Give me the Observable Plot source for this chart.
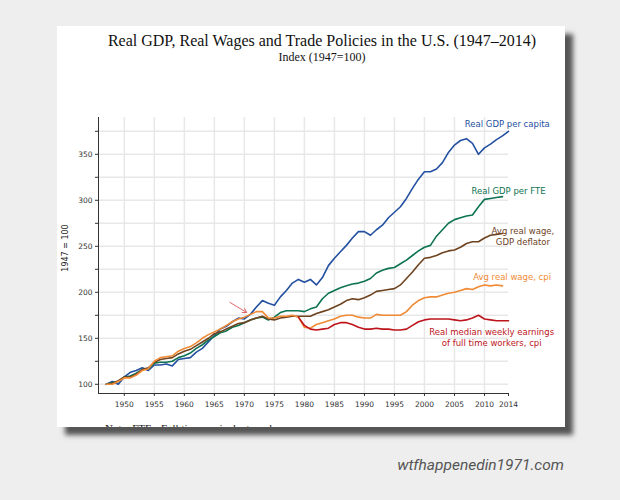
<!DOCTYPE html>
<html><head><meta charset="utf-8">
<script src="https://cdn.jsdelivr.net/npm/d3@7"></script>
<script src="https://cdn.jsdelivr.net/npm/@observablehq/plot@0.6"></script>
<style>
html,body{margin:0;padding:0;background:#eeeeee;width:620px;height:500px;overflow:hidden;position:relative;}
#card{position:absolute;left:57px;top:26px;width:508px;height:401px;background:#fff;box-shadow:8px 8px 5px #555;overflow:hidden;}
#note{position:absolute;left:48px;top:396px;font-family:"Liberation Serif",serif;font-size:11px;color:#222;white-space:nowrap;}
#title{position:absolute;left:22px;width:600px;top:32px;text-align:center;font-family:"Liberation Serif",serif;font-size:16px;color:#111;white-space:nowrap;}
#subtitle{position:absolute;left:22px;width:600px;top:50px;text-align:center;font-family:"Liberation Serif",serif;font-size:12px;color:#111;}
#chart{position:absolute;left:0;top:0;z-index:2;}
#ylab{position:absolute;left:65px;top:248px;transform:translate(-50%,-50%) rotate(-90deg);font-family:"DejaVu Sans",sans-serif;font-size:8px;color:#222;white-space:nowrap;z-index:3;}
#wm{position:absolute;right:56px;top:456px;font-family:Roboto,sans-serif;font-style:italic;font-size:15.5px;color:#555;white-space:nowrap;}
</style></head>
<body>
<div id="card"><div id="note">Note: FTE - Full time equivalent workers</div></div>
<div id="title">Real GDP, Real Wages and Trade Policies in the U.S. (1947–2014)</div>
<div id="subtitle">Index (1947=100)</div>
<div id="chart"></div>
<div id="ylab">1947 = 100</div>
<div id="wm">wtfhappenedin1971.com</div>
<script>
const years = [1947,1948,1949,1950,1951,1952,1953,1954,1955,1956,1957,1958,1959,
1960,1961,1962,1963,1964,1965,1966,1967,1968,1969,1970,1971,1972,1973,1974,1975,1976,1977,1978,1979,
1980,1981,1982,1983,1984,1985,1986,1987,1988,1989,1990,1991,1992,1993,1994,1995,1996,1997,1998,1999,
2000,2001,2002,2003,2004,2005,2006,2007,2008,2009,2010,2011,2012,2013,2014];

// Real GDP per capita
const gdpCapita = [100,103,100,108,113,115,118,115,121,121,122,120,127,
128,129,135,139,146,153,160,163,168,172,171,176,184,191,188,186,195,202,210,214,
211,214,208,216,229,237,244,251,259,266,266,262,268,273,281,287,293,302,313,323,
331,331,334,341,352,360,365,367,362,350,357,361,366,370,375];

// Real GDP per FTE
const gdpFTE = [100,102,103,108,109,112,116,117,123,124,124,125,129,
131,134,139,143,148,152,156,158,162,164,167,170,172,173,170,173,178,180,180,180,
179,182,184,193,199,202,205,207,209,210,212,215,221,224,226,227,231,235,240,245,
249,251,261,268,275,279,281,283,284,293,301,302,303,304,null];

// Avg real wage, GDP deflator
const wageDeflator = [100,101,104,108,108,111,116,118,124,127,128,129,133,
136,138,142,146,150,155,157,160,163,166,167,170,172,174,171,170,172,173,174,174,
174,174,177,179,181,184,187,191,193,192,194,197,201,202,203,204,208,215,222,230,
237,238,240,243,245,246,249,253,255,255,259,262,263,264,null];

// Avg real wage, cpi
const wageCpi = [100,100,103,107,107,110,115,117,125,129,130,131,136,
139,141,145,150,154,157,160,164,168,171,173,176,179,179,172,172,174,174,175,173,
162,161,165,167,169,171,174,175,175,173,172,172,176,175,175,175,175,179,186,191,
194,195,195,197,199,200,202,204,203,206,208,207,208,207,null];

// Real median weekly earnings of full time workers, cpi
const medianWeekly = [null,null,null,null,null,null,null,null,null,null,null,null,null,
null,null,null,null,null,null,null,null,null,null,null,null,null,null,null,null,null,null,null,173,
164,160,159,160,161,165,167,167,165,162,160,160,161,160,160,159,159,160,164,168,
170,171,171,171,171,170,169,170,172,175,171,170,169,169,169];

const seriesNames = ["Real GDP per capita","Real GDP per FTE","Avg real wage,\nGDP deflator","Avg real wage, cpi","Real median weekly earnings\nof full time workers, cpi"];
const seriesColors = ["#2350a0","#0d7352","#6e431f","#f08a35","#bd151b"];
const seriesValues = [gdpCapita, gdpFTE, wageDeflator, wageCpi, medianWeekly];
// label anchors (year, index value) for direct labels
const labelYears = [2013.8, 2014.0, 2016.4, 2014.6, 2011.2];
const labelValues = [383.5, 311, 261.5, 217.5, 151.5];

const xTicks = [1950,1955,1960,1965,1970,1975,1980,1985,1990,1995,2000,2005,2010,2014];
const xGrid = [1950,1955,1960,1965,1970,1975,1980,1985,1990,1995,2000,2005,2010];
const yTicks = [100,150,200,250,300,350];
const yMinor = [125,175,225,275,325,375];
const yGrid = [100,125,150,175,200,225,250,275,300,325,350,375];
const xDomain = [1945.7, 2014];
const yDomain = [90, 390];
// annotation arrow pointing at 1971
const arrowData = [{x1: 1967.6, y1: 189, x2: 1970.4, y2: 178}];

const lineMarks = seriesValues.map((vals, k) =>
  Plot.line(years.map((yr, i) => ({year: yr, v: vals[i]})).filter(d => d.v != null),
    {x: "year", y: "v", stroke: seriesColors[k], strokeWidth: 1.6}));

const labels = seriesNames.map((t, k) => ({text: t, x: labelYears[k], y: labelValues[k], color: seriesColors[k]}));

const chart = Plot.plot({
  width: 620, height: 440,
  marginLeft: 98, marginRight: 112, marginTop: 117, marginBottom: 47,
  style: {fontFamily: "DejaVu Sans, sans-serif", fontSize: "7.5px", color: "#333", background: "transparent", overflow: "visible"},
  x: {domain: xDomain},
  y: {domain: yDomain},
  marks: [
    Plot.gridX(xGrid, {stroke: "#e8e8e8", strokeOpacity: 1, strokeWidth: 1.5}),
    Plot.gridY(yGrid, {stroke: "#e8e8e8", strokeOpacity: 1, strokeWidth: 1.5}),
    Plot.ruleX([xDomain[0]], {stroke: "#333", strokeWidth: 1}),
    Plot.ruleY([yDomain[0]], {stroke: "#333", strokeWidth: 1}),
    Plot.axisX({ticks: xTicks, tickFormat: d => String(d), tickSize: 3, tickPadding: 5, label: null, fontSize: 7.5}),
    Plot.axisY({ticks: yTicks, tickSize: 3, tickPadding: 3, label: null, fontSize: 7.5}),
    Plot.axisY({ticks: yMinor, tickSize: 3, tickFormat: () => "", label: null}),
    ...lineMarks,
    Plot.arrow(arrowData, {x1: "x1", y1: "y1", x2: "x2", y2: "y2", stroke: "#e06868", strokeWidth: 1, headLength: 7}),
    Plot.text(labels, {x: "x", y: "y", text: "text", fill: "color", fontSize: 8.5, lineHeight: 1.35, textAnchor: "middle"})
  ]
});
document.getElementById("chart").appendChild(chart);
</script>
</body></html>
